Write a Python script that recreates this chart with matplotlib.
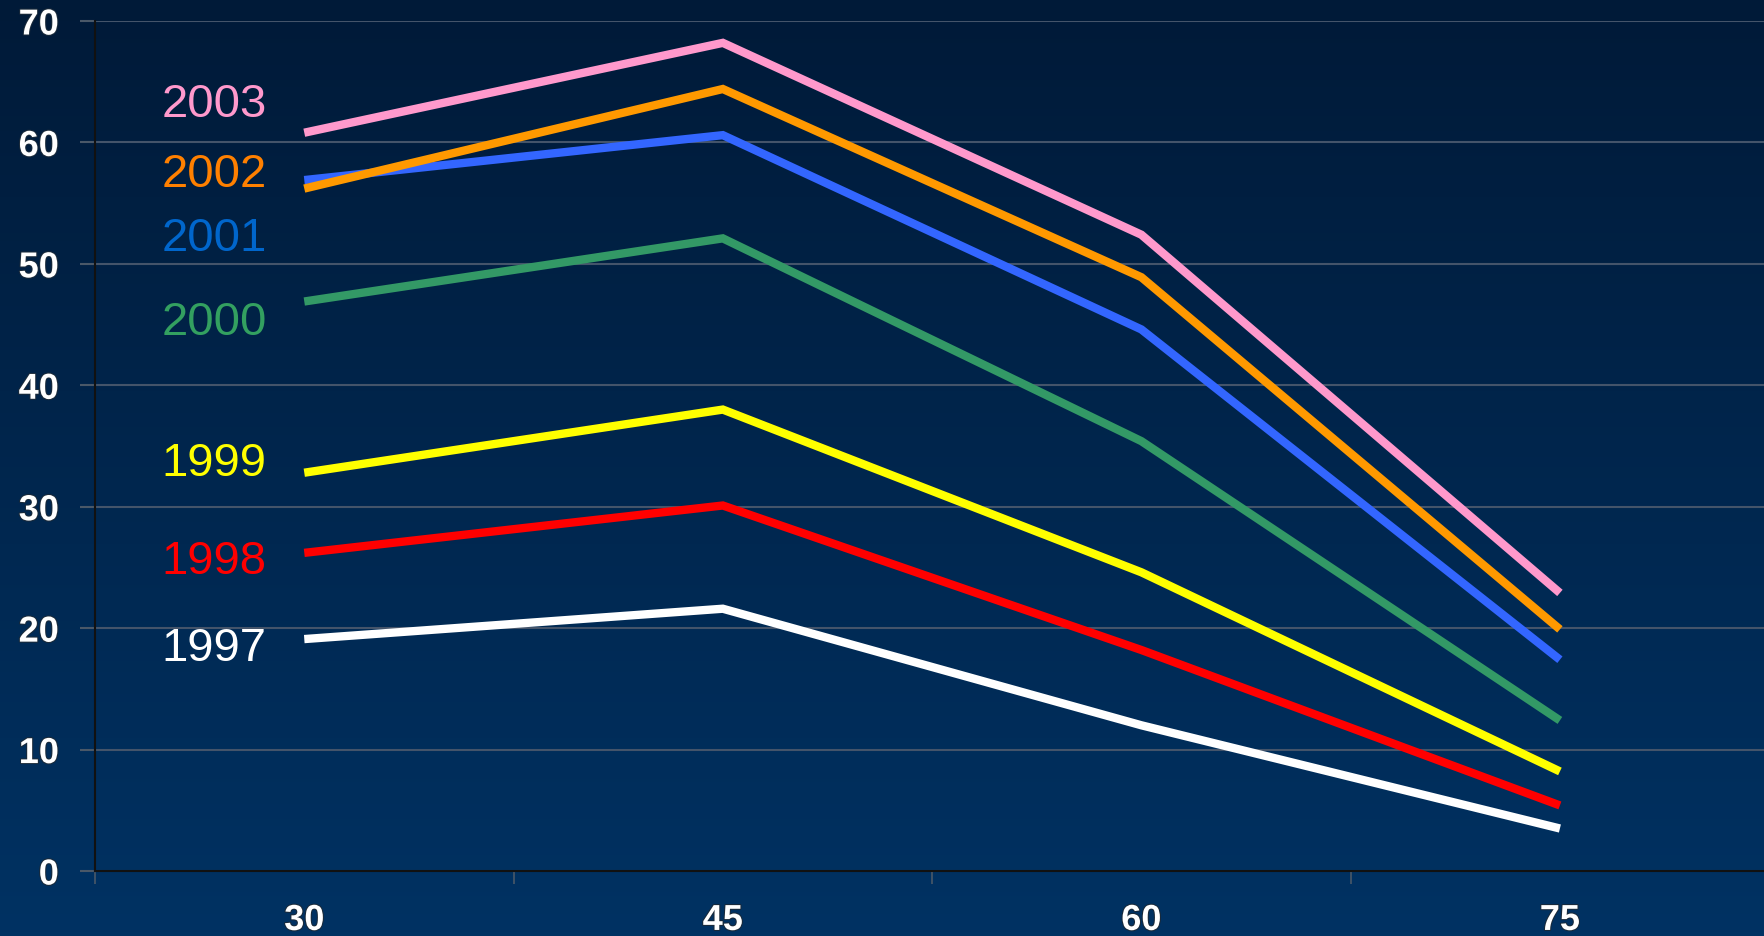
import matplotlib
matplotlib.use("Agg")
import matplotlib.pyplot as plt
import numpy as np
from matplotlib.colors import LinearSegmentedColormap
import matplotlib.patheffects as pe

categories = ["30", "45", "60", "75"]
years = ["2003", "2002", "2001", "2000", "1999", "1998", "1997"]
v2003 = [60.8, 68.2, 52.4, 22.9]
v2002 = [56.2, 64.4, 48.9, 19.9]
v2001 = [56.9, 60.6, 44.6, 17.4]
v2000 = [46.9, 52.1, 35.4, 12.4]
v1999 = [32.8, 38.0, 24.6, 8.2]
v1998 = [26.2, 30.1, 18.2, 5.4]
v1997 = [19.1, 21.6, 12.0, 3.5]
series = [v2003, v2002, v2001, v2000, v1999, v1998, v1997]
line_colors = ["#ff99cc", "#ff9900", "#3366ff", "#339966", "#ffff00", "#ff0000", "#ffffff"]
label_colors = ["#ff99cc", "#ff8000", "#0066cc", "#33a060", "#ffff00", "#ff0000", "#ffffff"]
label_y = [63.2, 57.4, 52.1, 45.2, 33.6, 25.5, 18.4]
yticks = [0, 10, 20, 30, 40, 50, 60, 70]

W, H = 1765, 937
fig = plt.figure(figsize=(W / 100, H / 100), dpi=100)

# background gradient
bg = fig.add_axes([0, 0, 1, 1], zorder=0)
cmap = LinearSegmentedColormap.from_list("bg", ["#001a38", "#003263"])
grad = np.linspace(0, 1, 256).reshape(-1, 1)
bg.imshow(grad, aspect="auto", cmap=cmap, extent=[0, 1, 0, 1], origin="upper")
bg.axis("off")

left, right = 95 / W, 1.0
bottom, top = 1 - 872 / H, 1 - 22 / H
ax = fig.add_axes([left, bottom, right - left, top - bottom], zorder=1)
ax.patch.set_alpha(0)

x = np.arange(1, len(categories) + 1)
for vals, c in zip(series[::-1], line_colors[::-1]):
    ax.plot(x, vals, color=c, lw=6.0, solid_joinstyle="miter", solid_capstyle="butt", zorder=3)

for yr, ly, lc in zip(years, label_y, label_colors):
    ax.text(0.91, ly, yr, color=lc, fontsize=34, family="Liberation Sans",
            ha="right", va="center", zorder=4)

outline = [pe.withStroke(linewidth=1.5, foreground="#1a2a3a")]

ax.set_ylim(0, 70)
ax.set_xlim(0.5, 4.5 - 0.01)
ax.set_yticks(yticks)
ax.set_yticklabels([str(t) for t in yticks], fontsize=26, fontweight="bold",
                   color="white", family="Liberation Sans")
for t in ax.get_yticklabels():
    t.set_path_effects(outline)
ax.tick_params(axis="y", length=11, width=1.5, color="#4a5868", pad=15)
ax.yaxis.grid(True, color="#44546a", lw=1.5, zorder=1)
ax.set_axisbelow(True)

ax.set_xticks([0.5, 1.5, 2.5, 3.5])
ax.set_xticklabels([])
ax.tick_params(axis="x", which="major", length=9, width=1.2, color="#4a5868")
ax.set_xticks(x, minor=True)
ax.set_xticklabels(categories, minor=True, fontsize=26, fontweight="bold",
                   color="white", family="Liberation Sans")
for t in ax.get_xticklabels(minor=True):
    t.set_path_effects(outline)
ax.tick_params(axis="x", which="minor", length=0, pad=23)

for s in ["top", "right"]:
    ax.spines[s].set_visible(False)
for s in ["left", "bottom"]:
    ax.spines[s].set_color("#111111")
    ax.spines[s].set_linewidth(1.5)

fig.savefig("out.png", dpi=100)
